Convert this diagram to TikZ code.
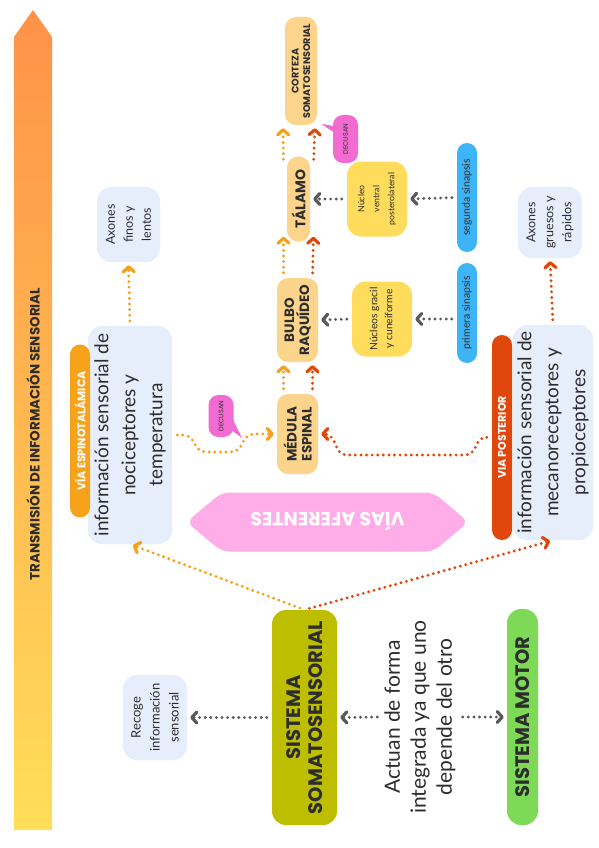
\documentclass[tikz,border=0pt]{standalone}
\usepackage{fontspec}
\setmainfont{Lato}
\newfontfamily\heavyfont{Poppins}
\usetikzlibrary{arrows.meta,shapes.symbols,calc}
\definecolor{arrtop}{RGB}{255,146,72}
\definecolor{arrbottom}{RGB}{255,222,89}
\definecolor{inkgray}{RGB}{45,45,45}
\definecolor{paleblue}{RGB}{230,238,252}
\definecolor{tanfill}{RGB}{253,212,140}
\definecolor{nucyellow}{RGB}{255,220,92}
\definecolor{pillblue}{RGB}{60,180,245}
\definecolor{decpink}{RGB}{242,107,208}
\definecolor{hexpink}{RGB}{254,173,233}
\definecolor{olive}{RGB}{189,190,0}
\definecolor{motorgreen}{RGB}{126,217,87}
\definecolor{esporange}{RGB}{247,162,27}
\definecolor{postred}{RGB}{224,71,12}
\definecolor{arrorange}{RGB}{247,160,28}
\definecolor{arrred}{RGB}{224,71,12}
\definecolor{arrgray}{RGB}{90,90,90}

\begin{document}
\begin{tikzpicture}[x=1pt,y=-1pt,
    every node/.style={text=inkgray},
    palebox/.style={rotate=90,fill=paleblue,rounded corners=14pt,align=center,inner sep=1pt},
    tanbox/.style={rotate=90,fill=tanfill,rounded corners=11pt,align=center,inner sep=1pt,
                   font=\heavyfont\bfseries\fontsize{13.5}{15}\selectfont},
    yelbox/.style={rotate=90,fill=nucyellow,rounded corners=14pt,align=center,inner sep=1pt},
    pillbox/.style={rotate=90,fill=pillblue,rounded corners=10pt,inner sep=1pt,
                    font=\fontsize{10.5}{12}\selectfont},
    tagbox/.style={rotate=90,rounded corners=10pt,inner sep=1pt,text=white,
                   font=\heavyfont\bfseries\fontsize{11}{12}\selectfont},
    bubble/.style={rotate=90,fill=decpink,rounded corners=10pt,inner sep=1pt,
                   font=\heavyfont\fontsize{6.5}{7}\selectfont},
    sysbox/.style={rotate=90,rounded corners=14pt,align=center,inner sep=1pt,
                   font=\heavyfont\bfseries\fontsize{19.5}{22}\selectfont},
    dotline/.style={line width=3.2pt,dash pattern=on 0pt off 5.6pt,line cap=round,
                    shorten <=5pt,shorten >=3pt,-{Straight Barb[length=5pt,width=11pt,round]}},
    oarr/.style={dotline,draw=arrorange},
    rarr/.style={dotline,draw=arrred},
    garr/.style={dotline,draw=arrgray}]
  \fill[white] (0,0) rectangle (599,848);
  \useasboundingbox (0,0) rectangle (599,848);

  % Side arrow
  \shade[top color=arrtop,bottom color=arrbottom] (14,830) -- (14,37) -- (33,10) -- (52,37) -- (52,830) -- cycle;
  \node[rotate=90,font=\heavyfont\bfseries\fontsize{13.5}{15}\selectfont] (transtxt) at (33,434)
    {TRANSMISIÓN DE INFORMACIÓN SENSORIAL};

  % Vias aferentes
  \node[signal,signal to=west and east,signal pointer angle=80,fill=hexpink,rounded corners=8pt,
        minimum width=282pt,minimum height=59pt,inner sep=0pt,rotate=180,text=white,
        font=\heavyfont\bfseries\fontsize{19}{21}\selectfont] (vias) at (327.5,522) {VÍAS AFERENTES};

  % Left column
  \node[palebox,minimum width=75pt,minimum height=63pt,font=\fontsize{12.5}{18}\selectfont] (axfinos) at (128.5,224.5) {Axones\\finos y\\lentos};
  \node[palebox,minimum width=218pt,minimum height=84pt,font=\fontsize{19}{27}\selectfont] (nocibox) at (130,435) {información sensorial de\\nociceptores y\\temperatura};
  \node[tagbox,fill=esporange,minimum width=173pt,minimum height=20pt] (espino) at (80,431) {VÍA ESPINOTALÁMICA};

  % Centre column
  \node[tanbox,minimum width=80pt,minimum height=41pt] (medula) at (297.5,434) {MÉDULA\\ESPINAL};
  \node[tanbox,minimum width=84pt,minimum height=41pt] (bulbo) at (297.5,320) {BULBO\\RAQUÍDEO};
  \node[tanbox,minimum width=85pt,minimum height=23pt,font=\heavyfont\bfseries\fontsize{14}{16}\selectfont] (talamo) at (298.5,199) {TÁLAMO};
  \node[tanbox,minimum width=108pt,minimum height=32pt,font=\heavyfont\bfseries\fontsize{9.6}{11.5}\selectfont] (corteza) at (301,71) {CORTEZA\\SOMATOSENSORIAL};

  % Nuclei and synapses
  \node[yelbox,minimum width=75pt,minimum height=60pt,font=\fontsize{8.7}{15}\selectfont] (nucvpl) at (377,199) {Núcleo\\ventral\\posterolateral};
  \node[yelbox,minimum width=75pt,minimum height=60pt,font=\fontsize{10.3}{15}\selectfont] (nucgrac) at (382,319) {Núcleos gracil\\y cuneiforme};
  \node[pillbox,minimum width=109pt,minimum height=20pt] (segunda) at (467,197.5) {segunda sinapsis};
  \node[pillbox,minimum width=100pt,minimum height=20pt] (primera) at (467,313) {primera sinapsis};

  % Right column
  \node[palebox,minimum width=71pt,minimum height=64pt,font=\fontsize{12.5}{18}\selectfont] (axgruesos) at (550,222.5) {Axones\\gruesos y\\rápidos};
  \node[tagbox,fill=postred,minimum width=205pt,minimum height=20pt] (viapost) at (502,437.5) {VIA POSTERIOR};
  \node[palebox,minimum width=215pt,minimum height=80pt,font=\fontsize{19}{27}\selectfont] (mecano) at (553,432.5) {información sensorial de\\mecanoreceptores y\\propioceptores};

  % Bottom row
  \node[sysbox,fill=olive,minimum width=215pt,minimum height=65pt] (sistema) at (304.5,717.5) {SISTEMA\\SOMATOSENSORIAL};
  \node[sysbox,fill=motorgreen,minimum width=216pt,minimum height=31pt] (motor) at (522.5,717) {SISTEMA MOTOR};
  \node[palebox,minimum width=85pt,minimum height=64pt,font=\fontsize{13}{19}\selectfont] (recoge) at (155,717.5) {Recoge\\información\\sensorial};
  \node[rotate=90,align=center,inner sep=2pt,font=\fontsize{21}{26}\selectfont] (actuan) at (420,717) {Actuan de forma\\integrada ya que uno\\depende del otro};

  % Decusan bubbles
  \node[bubble,minimum width=42pt,minimum height=25pt] (decuno) at (221,416) {DECUSAN};
  \fill[decpink] ($(decuno.center)+(5,10)$) -- ($(decuno.center)+(21,22)$) -- ($(decuno.center)+(11,2)$) -- cycle;
  \node[bubble,minimum width=48pt,minimum height=25pt] (decdos) at (345.5,139) {DECUSAN};
  \fill[decpink] ($(decdos.center)+(-6,-12)$) -- ($(decdos.center)+(-24,-15)$) -- ($(decdos.center)+(-8,-4)$) -- cycle;

  % Connectors
  \draw[oarr] (sistema.east) -- (nocibox.west);
  \draw[rarr] (sistema.east) -- (mecano.west);
  \draw[oarr] (nocibox.east) -- (axfinos.west);
  \draw[rarr] (mecano.east) -- (axgruesos.west);
  \draw[oarr,rounded corners=7pt] (nocibox.south) -- (190,435) -- (199,452) -- (238,452) -- (247,434) -- (medula.north);
  \draw[rarr,rounded corners=7pt] (viapost.north) -- (480,437) -- (472,455) -- (340,455) -- (331,434) -- (medula.south);

  \draw[oarr] ($(medula.east)+(-14,0)$) -- ($(bulbo.west)+(-14,0)$);
  \draw[rarr] ($(medula.east)+(15,0)$) -- ($(bulbo.west)+(15,0)$);
  \draw[oarr] ($(bulbo.east)+(-14,0)$) -- ($(talamo.west)+(-15,-8)$);
  \draw[rarr] ($(bulbo.east)+(15,0)$) -- ($(talamo.west)+(15,-8)$);
  \draw[oarr] ($(talamo.east)+(-15,8)$) -- ($(corteza.west)+(-18,0)$);
  \draw[rarr] ($(talamo.east)+(15,8)$) -- ($(corteza.west)+(14,0)$);

  \draw[garr] (segunda.north) -- (nucvpl.south);
  \draw[garr] (nucvpl.north) -- (talamo.south);
  \draw[garr] (primera.north |- nucgrac.south) -- (nucgrac.south);
  \draw[garr] (nucgrac.north) -- (bulbo.south);

  \draw[garr] (sistema.north) -- (recoge.south);
  \draw[garr] (actuan.north) -- (sistema.south);
  \draw[garr] (actuan.south) -- (motor.north);
\end{tikzpicture}
\end{document}
